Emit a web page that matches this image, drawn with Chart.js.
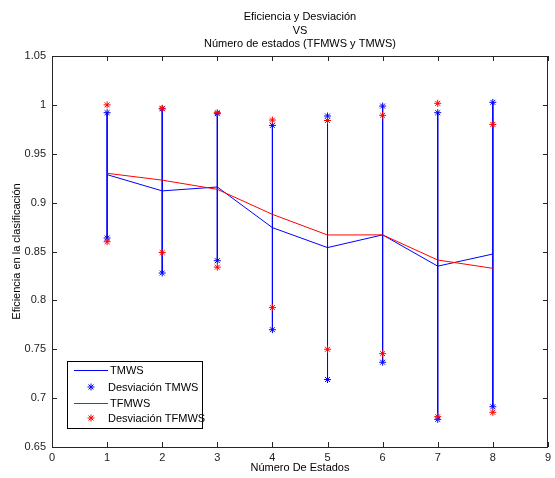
<!DOCTYPE html>
<html>
<head>
<meta charset="utf-8">
<script src="https://cdn.jsdelivr.net/npm/chart.js@4"></script>
<style>
  body { margin: 0; background: #fff; }
  #wrap { width: 555px; height: 478px; }
</style>
</head>
<body>
<div id="wrap"><canvas id="effChart" width="555" height="478"></canvas></div>
<script>
// data
const estados = [1, 2, 3, 4, 5, 6, 7, 8];
const tmws    = [0.9286, 0.912, 0.916, 0.8744, 0.854, 0.867, 0.835, 0.8474];
const tmwsHi  = [0.992, 0.996, 0.991, 0.979, 0.9886, 0.9988, 0.992, 1.0026];
const tmwsLo  = [0.8638, 0.828, 0.8406, 0.770, 0.719, 0.7367, 0.6783, 0.6912];
const tfmws   = [0.930, 0.923, 0.9136, 0.888, 0.8669, 0.867, 0.8413, 0.8328];
const tfmwsHi = [1.0, 0.9965, 0.992, 0.9845, 0.984, 0.9893, 1.0016, 0.980];
const tfmwsLo = [0.860, 0.849, 0.834, 0.7926, 0.750, 0.7455, 0.681, 0.6855];
const xTicks  = [0, 1, 2, 3, 4, 5, 6, 7, 8, 9];
const yTicks  = [0.65, 0.7, 0.75, 0.8, 0.85, 0.9, 0.95, 1, 1.05];
const titleLines = ['Eficiencia y Desviación', 'VS', 'Número de estados (TFMWS y TMWS)'];

const FONT = '"Liberation Sans", Arial, sans-serif';
const AXIS = '#262626';

const pts = (ys) => estados.map((x, i) => ({ x: x, y: ys[i] }));
const devPts = (hi, lo) => estados.flatMap((x, i) => [{ x: x, y: hi[i] }, { x: x, y: lo[i] }]);

// vertical bars between the TMWS deviations, split by gaps
const bars = [];
estados.forEach((x, i) => {
    bars.push({ x: x, y: tmwsHi[i] }, { x: x, y: tmwsLo[i] }, { x: x, y: null });
});

const matlabLook = {
    id: 'matlabLook',
    afterDraw(chart) {
        const ctx = chart.ctx;
        const a = chart.chartArea;
        const xs = chart.scales.x, ys = chart.scales.y;
        ctx.save();
        ctx.strokeStyle = AXIS;
        ctx.lineWidth = 1;
        ctx.strokeRect(Math.round(a.left) + 0.5, Math.round(a.top) + 0.5,
            Math.round(a.right - a.left) - 1, Math.round(a.bottom - a.top));
        ctx.beginPath();
        xTicks.forEach(v => {
            const px = Math.round(xs.getPixelForValue(v)) + 0.5;
            ctx.moveTo(px, a.bottom); ctx.lineTo(px, a.bottom - 5);
            ctx.moveTo(px, a.top); ctx.lineTo(px, a.top + 5);
        });
        yTicks.forEach(v => {
            const py = Math.round(ys.getPixelForValue(v)) + 0.5;
            ctx.moveTo(a.left, py); ctx.lineTo(a.left + 5, py);
            ctx.moveTo(a.right, py); ctx.lineTo(a.right - 5, py);
        });
        ctx.stroke();

        // title
        ctx.fillStyle = '#000';
        ctx.font = '11px ' + FONT;
        ctx.textAlign = 'center';
        ctx.textBaseline = 'middle';
        const cx = (a.left + a.right) / 2;
        titleLines.forEach((t, i) => ctx.fillText(t, cx, 17 + i * 13.5));

        // legend box
        const lx = 67.5, ly = 361.5, lw = 135, lh = 67;
        ctx.fillStyle = '#fff';
        ctx.fillRect(lx, ly, lw, lh);
        ctx.strokeStyle = '#000';
        ctx.strokeRect(lx, ly, lw, lh);
        const rows = [
            { label: 'TMWS', color: '#0000ff', kind: 'line', y: 370 },
            { label: 'Desviación TMWS', color: '#0000ff', kind: 'star', y: 387 },
            { label: 'TFMWS', color: '#ff0000', kind: 'line', y: 403 },
            { label: 'Desviación TFMWS', color: '#ff0000', kind: 'star', y: 418 }
        ];
        ctx.textAlign = 'left';
        rows.forEach(r => {
            ctx.strokeStyle = r.color;
            if (r.kind === 'line') {
                ctx.beginPath();
                ctx.moveTo(74, r.y + 0.5); ctx.lineTo(108, r.y + 0.5);
                ctx.stroke();
            } else {
                Chart.helpers.drawPoint(ctx, { pointStyle: 'star', radius: 3.5, borderWidth: 1 }, 91, r.y);
            }
            ctx.fillStyle = '#000';
            ctx.fillText(r.label, r.kind === 'line' ? 110 : 108, r.y + 0.5);
        });
        ctx.restore();
    }
};

Chart.defaults.font.family = FONT;
Chart.defaults.font.size = 11;
Chart.defaults.color = '#000';

new Chart(document.getElementById('effChart'), {
    type: 'line',
    data: {
        datasets: [{
            label: 'Desviación TFMWS',
            data: devPts(tfmwsHi, tfmwsLo),
            showLine: false,
            pointStyle: 'star',
            pointRadius: 3.5,
            pointBorderWidth: 1,
            borderColor: '#ff0000',
            backgroundColor: '#ff0000',
            order: 0
        }, {
            label: 'TFMWS',
            data: pts(tfmws),
            borderColor: '#ff0000',
            borderWidth: 1,
            pointRadius: 0,
            order: 1
        }, {
            label: 'Desviación TMWS',
            data: devPts(tmwsHi, tmwsLo),
            showLine: false,
            pointStyle: 'star',
            pointRadius: 3.5,
            pointBorderWidth: 1,
            borderColor: '#0000ff',
            backgroundColor: '#0000ff',
            order: 2
        }, {
            label: 'TMWS',
            data: pts(tmws),
            borderColor: '#0000ff',
            borderWidth: 1,
            pointRadius: 0,
            order: 3
        }, {
            label: 'bars',
            data: bars,
            borderColor: '#0000ff',
            borderWidth: 1,
            pointRadius: 0,
            spanGaps: false,
            order: 4
        }]
    },
    options: {
        responsive: false,
        animation: false,
        layout: { padding: { top: 56, right: 2, left: 0, bottom: 0 } },
        plugins: {
            legend: { display: false },
            tooltip: { enabled: false },
            title: { display: false }
        },
        scales: {
            x: {
                type: 'linear',
                min: 0,
                max: 9,
                afterBuildTicks: s => { s.ticks = xTicks.map(v => ({ value: v })); },
                afterFit: s => { s.height = 31; },
                grid: { display: false, drawTicks: false },
                border: { display: false },
                ticks: { padding: 4, color: '#222', maxRotation: 0 },
                title: { display: true, text: 'Número De Estados', padding: { top: 0, bottom: 3 } }
            },
            y: {
                min: 0.65,
                max: 1.05,
                afterBuildTicks: s => { s.ticks = yTicks.map(v => ({ value: v })); },
                afterFit: s => { s.width = 52; },
                grid: { display: false, drawTicks: false },
                border: { display: false },
                ticks: { padding: 6, color: '#222', callback: v => String(+v.toFixed(2)) },
                title: { display: true, text: 'Eficiencia en la clasificación', padding: { top: 10, bottom: 0 } }
            }
        }
    },
    plugins: [matlabLook]
});
</script>
</body>
</html>
